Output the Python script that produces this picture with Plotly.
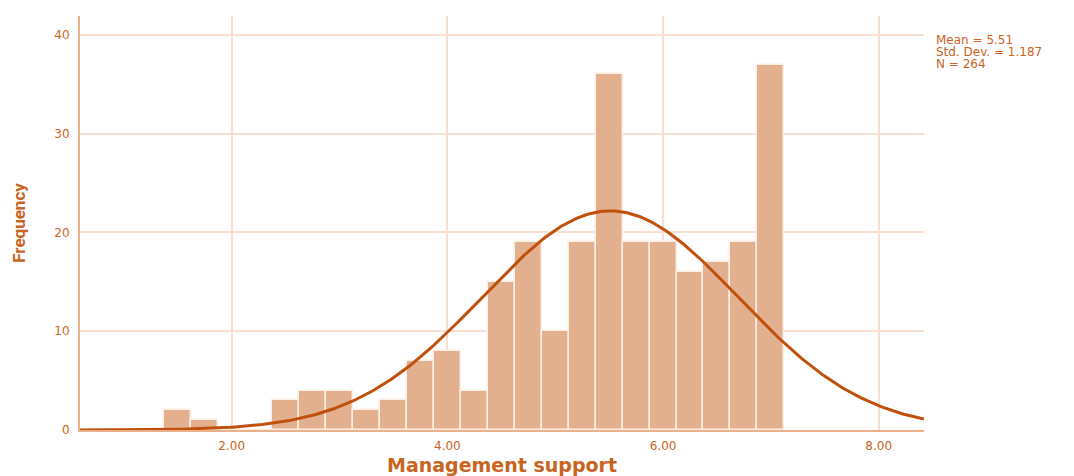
import numpy as np
import plotly.graph_objects as go

bin_centers = [1.5, 1.75, 2.0, 2.25, 2.5, 2.75, 3.0, 3.25, 3.5, 3.75, 4.0, 4.25,
               4.5, 4.75, 5.0, 5.25, 5.5, 5.75, 6.0, 6.25, 6.5, 6.75, 7.0]
frequencies = [2, 1, 0, 0, 3, 4, 4, 2, 3, 7, 8, 4,
               15, 19, 10, 19, 36, 19, 19, 16, 17, 19, 37]
bin_width = 0.25
mean_val = 5.51
std_val = 1.187
n_val = 264
x_ticks = [2, 4, 6, 8]
x_tick_labels = ["2.00", "4.00", "6.00", "8.00"]
y_ticks = [0, 10, 20, 30, 40]
stats_lines = [f"Mean = {mean_val}", f"Std. Dev. = {std_val}", f"N = {n_val}"]

text_color = "#c8641e"
grid_color = "#f7e0d2"
axis_color = "#eab08a"
bar_color = "#e2b08e"
curve_color = "#c0500c"

xs = np.linspace(0.593, 8.42, 400)
ys = n_val * bin_width / (std_val * np.sqrt(2 * np.pi)) * np.exp(-0.5 * ((xs - mean_val) / std_val) ** 2)

fig = go.Figure()
fig.add_trace(go.Bar(x=bin_centers, y=frequencies, width=bin_width,
                     marker=dict(color=bar_color, line=dict(color="#fbeee4", width=1.5)),
                     showlegend=False, hoverinfo="x+y"))
fig.add_trace(go.Scatter(x=xs, y=ys, mode="lines", line=dict(color=curve_color, width=3),
                         showlegend=False, hoverinfo="skip"))

fig.update_layout(
    width=1074, height=476,
    margin=dict(l=80, r=150, t=16, b=46),
    plot_bgcolor="white", paper_bgcolor="white",
    bargap=0,
    font=dict(family="DejaVu Sans", color=text_color),
    xaxis=dict(range=[0.593, 8.42], tickvals=x_ticks, ticktext=x_tick_labels,
               showgrid=True, gridcolor=grid_color, gridwidth=1.5,
               showline=True, linecolor=axis_color, linewidth=2,
               ticks="", zeroline=False, ticklabelstandoff=4, automargin=False,
               tickfont=dict(family="DejaVu Sans", size=12, color=text_color),
               title=dict(text="<b>Management support</b>", standoff=10,
                          font=dict(family="DejaVu Sans", size=19, color=text_color))),
    yaxis=dict(range=[0, 41.92], tickvals=y_ticks,
               showgrid=True, gridcolor=grid_color, gridwidth=1.5,
               showline=True, linecolor=axis_color, linewidth=2,
               ticks="", zeroline=False, ticklabelstandoff=6, automargin=False,
               tickfont=dict(family="DejaVu Sans", size=12, color=text_color),
               title=dict(text="<b>Frequency</b>", standoff=24,
                          font=dict(family="Liberation Sans Narrow, Roboto", size=17, color=text_color))),
)

for i, line in enumerate(stats_lines):
    fig.add_annotation(xref="paper", yref="paper", x=1.0115, y=(476 - 46 - (40 + 12 * i)) / 414,
                       xanchor="left", yanchor="middle",
                       align="left", showarrow=False, text=line,
                       font=dict(family="DejaVu Sans", size=12, color=text_color))

fig.write_html("out.html")
